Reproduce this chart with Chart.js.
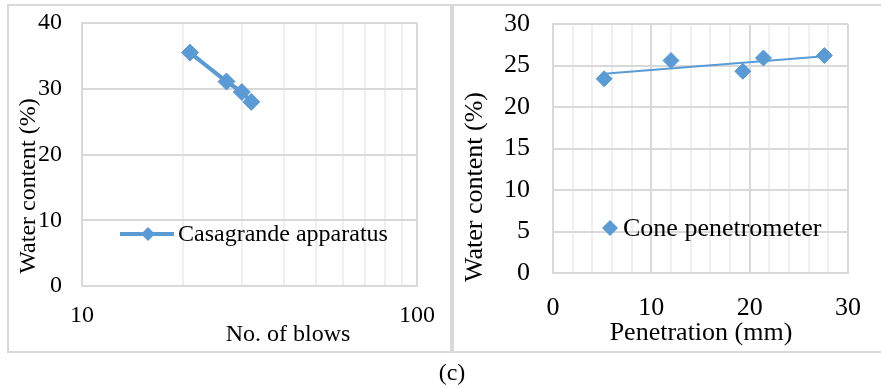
<!DOCTYPE html>
<html>
<head>
<meta charset="utf-8">
<script src="https://cdn.jsdelivr.net/npm/chart.js@4.4.1/dist/chart.umd.min.js"></script>
<style>
  body { margin: 0; background: #fff; width: 881px; height: 387px; overflow: hidden; position: relative; }
  .box { position: absolute; border: 2px solid #d9d9d9; box-sizing: border-box; }
  #boxL { left: 7px; top: 4px; width: 445px; height: 349px; }
  #boxR { left: 452px; top: 4px; width: 440px; height: 349px; }
  canvas { position: absolute; top: 0; }
  #cvL { left: 0; }
  #cvR { left: 450px; }
  #cap { position: absolute; left: 402px; width: 100px; top: 359px; text-align: center;
         font: 24px "Liberation Serif", "Times New Roman", serif; color: #000; }
</style>
</head>
<body>
<div class="box" id="boxL"></div>
<div class="box" id="boxR"></div>
<canvas id="cvL" width="450" height="360"></canvas>
<canvas id="cvR" width="431" height="360"></canvas>
<div id="cap">(c)</div>
<script>
// Casagrande apparatus
const blows = [21, 27, 30, 32];
const wcCasagrande = [35.5, 31.1, 29.5, 28.0];

// Cone penetrometer
const penetration = [5.2, 12.0, 19.3, 21.4, 27.6];
const wcCone = [23.4, 25.6, 24.3, 25.9, 26.2];
// linear trendline ends
const trendX = [5.2, 27.6];
const trendY = [24.0, 26.1];

// log axis gridlines and the labelled ones
const logGrid = [10, 20, 30, 40, 50, 60, 70, 80, 90, 100];
const xLabelsLog = [10, 100];
const xLabelsPen = [0, 10, 20, 30];

const BLUE = '#5b9bd5';
const FONT = '"Liberation Serif", "Times New Roman", serif';
const GRID = '#d9d9d9';
const GRID_MINOR = '#efefef';

Chart.defaults.font.family = FONT;
Chart.defaults.color = '#000';

const pts = (xs, ys) => xs.map((x, i) => ({ x, y: ys[i] }));

function diamond(ctx, x, y, r) {
    ctx.beginPath();
    ctx.moveTo(x - r, y);
    ctx.lineTo(x, y - r);
    ctx.lineTo(x + r, y);
    ctx.lineTo(x, y + r);
    ctx.closePath();
    ctx.fill();
}

// fixed y-axis width, no extra label padding so the plot top follows layout.padding
const fixY = w => s => { s.width = w; s.paddingTop = 0; s.paddingBottom = 0; };

// axis titles and in-plot legend
const extras = {
    id: 'extras',
    afterDraw(chart, args, o) {
        const ctx = chart.ctx;
        ctx.save();
        ctx.fillStyle = '#000';
        ctx.font = o.size + 'px ' + FONT;
        ctx.textAlign = 'center';
        ctx.textBaseline = 'middle';
        ctx.fillText(o.xTitle.text, o.xTitle.x, o.xTitle.y);
        ctx.save();
        ctx.translate(o.yTitle.x, o.yTitle.y);
        ctx.rotate(-Math.PI / 2);
        ctx.fillText(o.yTitle.text, 0, 0);
        ctx.restore();

        const lg = o.legend;
        if (lg.line) {
            ctx.strokeStyle = BLUE;
            ctx.lineWidth = 4;
            ctx.beginPath();
            ctx.moveTo(lg.line[0], lg.y);
            ctx.lineTo(lg.line[1], lg.y);
            ctx.stroke();
        }
        ctx.fillStyle = BLUE;
        diamond(ctx, lg.mx, lg.y, lg.r);
        ctx.fillStyle = '#000';
        ctx.textAlign = 'left';
        ctx.fillText(chart.data.datasets[0].label, lg.tx, lg.y + 1);
        ctx.restore();
    }
};

new Chart(document.getElementById('cvL'), {
    type: 'line',
    data: {
        datasets: [{
            label: 'Casagrande apparatus',
            data: pts(blows, wcCasagrande),
            borderColor: BLUE,
            backgroundColor: BLUE,
            borderWidth: 4,
            pointStyle: 'rectRot',
            pointRadius: 8.5,
            pointBorderWidth: 1,
            tension: 0
        }]
    },
    options: {
        responsive: false,
        animation: false,
        layout: { padding: { left: 0, right: 33, top: 23, bottom: 0 } },
        plugins: {
            legend: { display: false },
            tooltip: { enabled: false },
            extras: {
                size: 24,
                xTitle: { text: 'No. of blows', x: 288, y: 335 },
                yTitle: { text: 'Water content (%)', x: 29, y: 186 },
                legend: { line: [120, 174], mx: 148, r: 7, tx: 178, y: 234 }
            }
        },
        scales: {
            x: {
                type: 'logarithmic',
                min: 10, max: 100,
                afterBuildTicks: s => { s.ticks = logGrid.map(v => ({ value: v })); },
                afterFit: s => { s.height = 74; },
                border: { display: true, color: GRID, width: 2 },
                grid: {
                    drawTicks: false,
                    lineWidth: 2,
                    color: c => (c.tick && xLabelsLog.includes(c.tick.value)) ? GRID : GRID_MINOR
                },
                ticks: {
                    autoSkip: false, maxRotation: 0, padding: 15,
                    font: { size: 24 },
                    callback: v => xLabelsLog.includes(v) ? String(v) : ''
                }
            },
            y: {
                min: 0, max: 40,
                afterFit: fixY(82),
                border: { display: true, color: GRID, width: 2 },
                grid: { drawTicks: false, color: GRID, lineWidth: 2 },
                ticks: { stepSize: 10, padding: 20, font: { size: 24 } }
            }
        }
    },
    plugins: [extras]
});

new Chart(document.getElementById('cvR'), {
    type: 'scatter',
    data: {
        datasets: [{
            label: 'Cone penetrometer',
            data: pts(penetration, wcCone),
            borderColor: BLUE,
            backgroundColor: BLUE,
            pointStyle: 'rectRot',
            pointRadius: 8,
            pointBorderWidth: 1
        }, {
            label: 'Linear (Cone penetrometer)',
            type: 'line',
            data: pts(trendX, trendY),
            borderColor: BLUE,
            borderWidth: 2,
            pointRadius: 0
        }]
    },
    options: {
        responsive: false,
        animation: false,
        layout: { padding: { left: 0, right: 17, top: 24, bottom: 0 } },
        plugins: {
            legend: { display: false },
            tooltip: { enabled: false },
            extras: {
                size: 26,
                xTitle: { text: 'Penetration (mm)', x: 251, y: 333 },
                yTitle: { text: 'Water content (%)', x: 25, y: 187 },
                legend: { mx: 160, r: 8, tx: 173, y: 228 }
            }
        },
        scales: {
            x: {
                type: 'linear',
                min: 0, max: 30,
                afterFit: s => { s.height = 87; },
                border: { display: true, color: GRID, width: 2 },
                grid: {
                    drawTicks: false,
                    lineWidth: 2,
                    color: c => (c.tick && xLabelsPen.includes(c.tick.value)) ? GRID : GRID_MINOR
                },
                ticks: {
                    stepSize: 2, autoSkip: false, maxRotation: 0, padding: 20,
                    font: { size: 26 },
                    callback: v => xLabelsPen.includes(v) ? String(v) : ''
                }
            },
            y: {
                min: 0, max: 30,
                afterFit: fixY(103),
                border: { display: true, color: GRID, width: 2 },
                grid: { drawTicks: false, color: GRID, lineWidth: 2 },
                ticks: { stepSize: 5, padding: 23, font: { size: 26 } }
            }
        }
    },
    plugins: [extras]
});
</script>
</body>
</html>
